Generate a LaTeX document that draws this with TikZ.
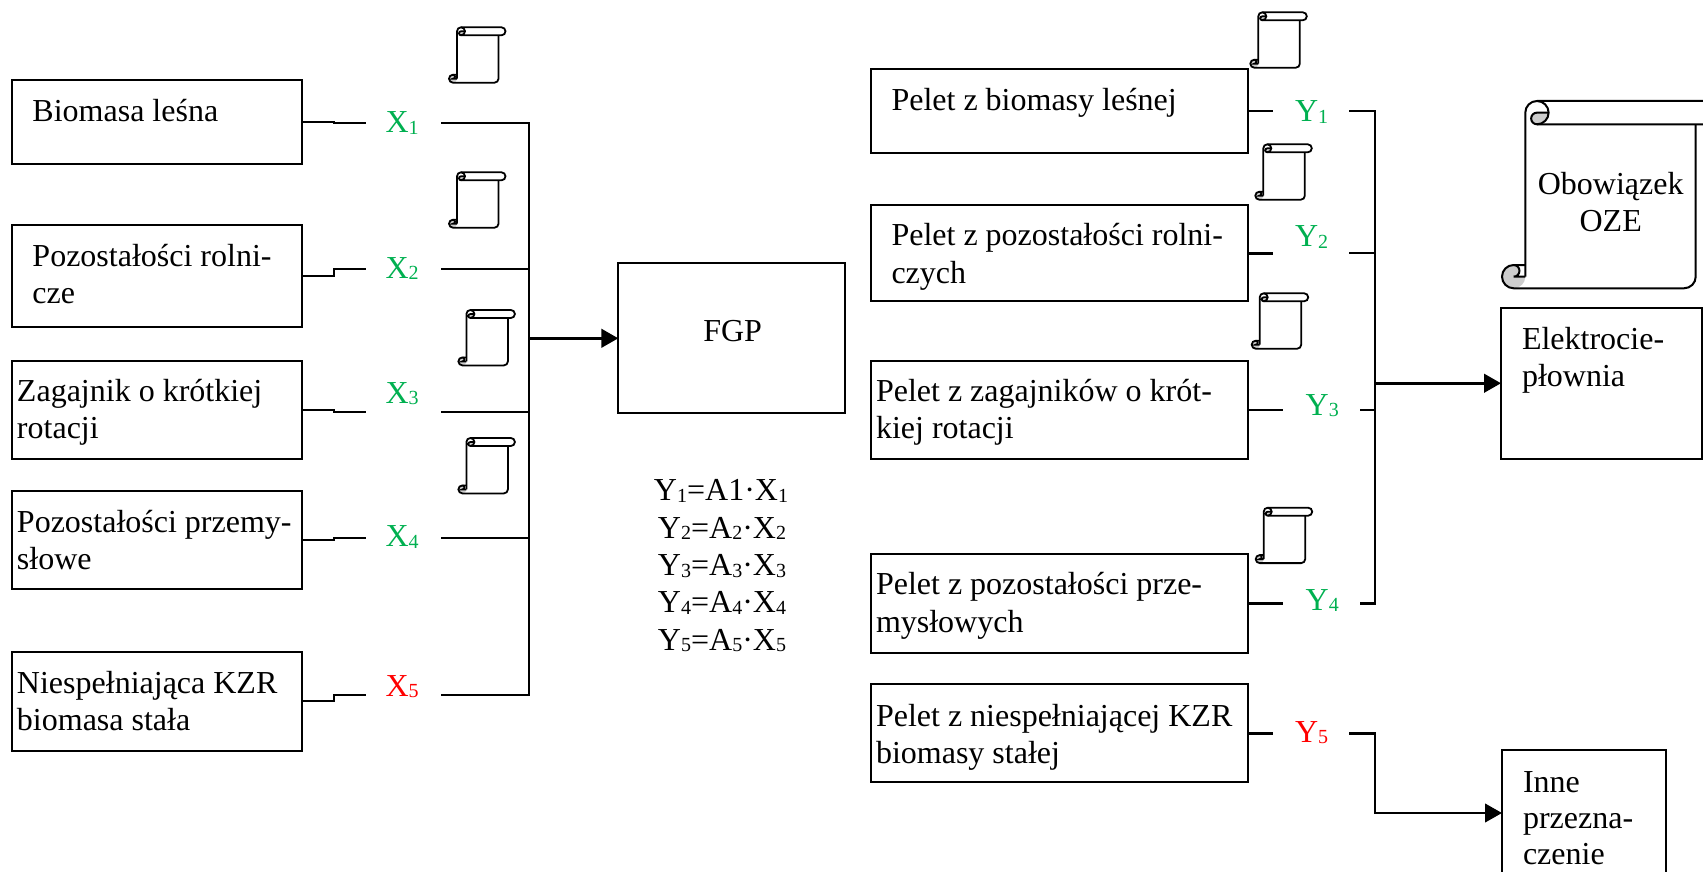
\documentclass[tikz,border=0pt]{standalone}
\usepackage{fontspec}
\setmainfont{Liberation Serif}
\usetikzlibrary{arrows.meta}
\definecolor{okgreen}{HTML}{00B050}
\definecolor{curlgrey}{HTML}{CDCDCD}
\newcommand\bxline[1]{\hbox{\hskip\bxleft\vrule height 26pt depth 11pt width 0pt #1}}
% width, height, left pad, first baseline, lines
\newcommand\bxtxt[5]{\vbox to #2pt{\hsize=#1pt\baselineskip=0pt\lineskip=0pt\lineskiplimit=0pt
  \def\bxleft{#3pt}\hbox to #1pt{}\vskip\dimexpr#4pt-26pt\relax #5\vss}}
\newcommand\subs[1]{\raisebox{-1.5pt}{\fontsize{20}{20}\selectfont #1}}
\newcommand\scrollfig[7]{%
  \pgfmathsetmacro\scH{#6/2}%
  \pgfmathsetmacro\scTm{-(#2+\scH)}%
  \pgfmathsetmacro\scTb{-(#2+#6)}%
  \pgfmathsetmacro\scTt{-(#2)}%
  \pgfmathsetmacro\scBm{-(#4-\scH)}%
  \pgfmathsetmacro\scBu{-(#4-#6)}%
  \pgfmathsetmacro\scBb{-(#4)}%
  \pgfmathsetmacro\scLh{#1+\scH}%
  \pgfmathsetmacro\scLa{#1+#6}%
  \pgfmathsetmacro\scLo{#1-\scH}%
  \pgfmathsetmacro\scRo{#5-\scH}%
  \pgfmathsetmacro\scHh{\scH/2}%
  \pgfmathsetmacro\scR{#3}%
  \fill[curlgrey] (\scLh,\scTm) -- (\scLa,\scTm) arc[start angle=0,end angle=-90,radius=\scH pt]
     arc[start angle=270,end angle=90,radius=\scHh pt] -- cycle;
  \fill[curlgrey] (\scLo,\scBu) arc[start angle=90,end angle=270,radius=\scH pt]
     arc[start angle=270,end angle=360,radius=\scH pt] -- (\scLo,\scBm)
     arc[start angle=270,end angle=450,radius=\scHh pt] -- cycle;
  \draw[#7] (#1,\scBm) -- (#1,\scTm) arc[start angle=180,end angle=90,radius=\scH pt]
     -- (\scRo,\scTt) arc[start angle=90,end angle=-90,radius=\scH pt] -- (\scLh,\scTb)
     arc[start angle=270,end angle=90,radius=\scHh pt] -- (\scLa,\scTm);
  \draw[#7] (\scLh,\scTt) arc[start angle=90,end angle=-90,radius=\scH pt];
  \draw[#7] (\scR,\scTb) -- (\scR,\scBm) arc[start angle=0,end angle=-90,radius=\scH pt] -- (\scLo,\scBb)
     arc[start angle=270,end angle=90,radius=\scH pt] -- (#1,\scBu);
  \draw[#7] (#1,\scBm) -- (\scLo,\scBm)
     arc[start angle=270,end angle=450,radius=\scHh pt];
}
\newcommand\smallscroll[2]{\scrollfig{#1}{#2}{#1+41.5}{#2+55.4}{#1+48.5}{8}{scrollline}}
\tikzset{
  x=1pt,y=1pt,
  boxnode/.style={draw=black,line width=2pt,inner sep=0pt,outer sep=0pt,font=\fontsize{32}{37}\selectfont},
  lab/.style={anchor=base west,inner sep=0pt,outer sep=0pt,font=\fontsize{32}{37}\selectfont},
  eqn/.style={anchor=base,inner sep=0pt,outer sep=0pt,font=\fontsize{32}{37}\selectfont},
  thin line/.style={draw=black,line width=2pt},
  busline/.style={draw=black,line width=2.8pt,line join=miter},
  branchline/.style={draw=black,line width=2.2pt},
  arrowline/.style={draw=black,line width=3pt,-{Triangle[length=17pt,width=18.5pt]}},
  scrollline/.style={draw=black,line width=1.8pt},
  bigscroll/.style={draw=black,line width=2pt},
}
\begin{document}
\begin{tikzpicture}
\useasboundingbox (0,0) rectangle (1703,-872);
\clip (0,0) rectangle (1703,-872);
% left boxes
\node[boxnode] (b1) at (157,-122) {\bxtxt{290}{84}{20.5}{41.7}{\bxline{Biomasa leśna}}};
\node[boxnode] (b2) at (157,-276) {\bxtxt{290}{101.4}{20.5}{41.4}{\bxline{Pozostałości rolni-}\bxline{cze}}};
\node[boxnode] (b3) at (157,-409.7) {\bxtxt{290}{98}{5}{41}{\bxline{Zagajnik o krótkiej}\bxline{rotacji}}};
\node[boxnode] (b4) at (157,-539.85) {\bxtxt{290}{97.7}{5}{41.2}{\bxline{Pozostałości przemy-}\bxline{słowe}}};
\node[boxnode] (b5) at (157,-701.35) {\bxtxt{290}{98.7}{5}{41.5}{\bxline{Niespełniająca KZR}\bxline{biomasa stała}}};
% FGP
\node[boxnode] (fgp) at (731.65,-338.3) {\bxtxt{226.7}{150}{85}{77.7}{\bxline{FGP}}};
% right boxes
\node[boxnode] (p1) at (1059.5,-111.1) {\bxtxt{377}{83.2}{20.5}{41.5}{\bxline{Pelet z biomasy leśnej}}};
\node[boxnode] (p2) at (1059.5,-253.3) {\bxtxt{377}{96}{20.5}{40}{\bxline{Pelet z pozostałości rolni-}\vskip1.5pt\bxline{czych}}};
\node[boxnode] (p3) at (1059.5,-409.7) {\bxtxt{377}{98}{5}{41}{\bxline{Pelet z zagajników o krót-}\bxline{kiej rotacji}}};
\node[boxnode] (p4) at (1059.5,-603.5) {\bxtxt{377}{98.4}{5}{40}{\bxline{Pelet z pozostałości prze-}\vskip1.5pt\bxline{mysłowych}}};
\node[boxnode] (p5) at (1059.5,-733.3) {\bxtxt{377}{98}{5}{42}{\bxline{Pelet z niespełniającej KZR}\bxline{biomasy stałej}}};
% output boxes
\node[boxnode] (el) at (1601.5,-383.25) {\bxtxt{201}{150.5}{21}{41.5}{\bxline{Elektrocie-}\bxline{płownia}}};
\node[boxnode] (in) at (1583.85,-813) {\bxtxt{163.7}{126}{21}{42.5}{\bxline{Inne}\vskip-1pt\bxline{przezna-}\vskip-1pt\bxline{czenie}}};
% labels
\node[lab,text=okgreen] (x1) at (385.6,-132.7) {X\subs{1}};
\node[lab,text=okgreen] (x2) at (385.6,-278.3) {X\subs{2}};
\node[lab,text=okgreen] (x3) at (385.6,-403) {X\subs{3}};
\node[lab,text=okgreen] (x4) at (385.6,-546.7) {X\subs{4}};
\node[lab,text=red] (x5) at (385.6,-696) {X\subs{5}};
\node[lab,text=okgreen] (y1) at (1295,-121.7) {Y\subs{1}};
\node[lab,text=okgreen] (y2) at (1295,-246.7) {Y\subs{2}};
\node[lab,text=okgreen] (y3) at (1305.7,-415) {Y\subs{3}};
\node[lab,text=okgreen] (y4) at (1305.7,-610) {Y\subs{4}};
\node[lab,text=red] (y5) at (1295,-742.3) {Y\subs{5}};
% equations
\node[eqn] (e1) at (721,-500.7) {Y\subs{1}=A1·X\subs{1}};
\node[eqn] (e2) at (722,-538) {Y\subs{2}=A\subs{2}·X\subs{2}};
\node[eqn] (e3) at (722,-575.7) {Y\subs{3}=A\subs{3}·X\subs{3}};
\node[eqn] (e4) at (722,-612.7) {Y\subs{4}=A\subs{4}·X\subs{4}};
\node[eqn] (e5) at (722,-650) {Y\subs{5}=A\subs{5}·X\subs{5}};
% connector ends
\coordinate (x1i) at (366,-123);   \coordinate (x1o) at (441,-123);
\coordinate (x2i) at (366,-269.3); \coordinate (x2o) at (441,-269.3);
\coordinate (x3i) at (366,-411.7); \coordinate (x3o) at (441,-411.7);
\coordinate (x4i) at (366,-537.7); \coordinate (x4o) at (441,-537.7);
\coordinate (x5i) at (366,-695);   \coordinate (x5o) at (441,-695);
\coordinate (lbus) at (529,-695);
\coordinate (y1i) at (1272.7,-111.1); \coordinate (y1o) at (1349,-111.1);
\coordinate (y2i) at (1272.7,-253.3); \coordinate (y2o) at (1349,-253.3);
\coordinate (y3i) at (1283.3,-409.7); \coordinate (y3o) at (1360,-409.7);
\coordinate (y4i) at (1283.3,-603.5); \coordinate (y4o) at (1360,-603.5);
\coordinate (y5i) at (1272.7,-733.3); \coordinate (y5o) at (1349,-733.3);
\coordinate (rbus) at (1375,-603.5);
\coordinate (rbusarrow) at (1375,-383.25);
% left connectors
\foreach \n in {1,...,5}{
  \draw[thin line] (b\n.east) -- ++(32,0) |- (x\n i);
}
\draw[busline] (x1o) -| (lbus) -- (x5o);
\foreach \n in {2,3,4}{
  \draw[branchline] (x\n o) -- (x\n o -| lbus);
}
\draw[arrowline] (lbus |- fgp.west) -- (fgp.west);
% right connectors
\foreach \n in {1,...,5}{
  \draw[thin line,line width=2.4pt] (p\n.east) -- (y\n i);
}
\draw[busline] (y1o) -| (rbus) -- (y4o);
\foreach \n in {2,3}{
  \draw[branchline] (y\n o) -- (y\n o -| rbus);
}
\draw[arrowline] (rbusarrow) -- (el.west);
\draw[arrowline,line width=2.6pt] (y5o) -| (rbus |- in.west) -- (in.west);
% small scrolls
\smallscroll{457}{27.3}
\smallscroll{457}{172.3}
\smallscroll{466.4}{310}
\smallscroll{466.4}{438}
\smallscroll{1258.3}{12.3}
\smallscroll{1263.3}{144.3}
\smallscroll{1259.7}{293.3}
\smallscroll{1263.7}{507.7}
% large scroll
\scrollfig{1525.3}{101}{1695.7}{288.3}{1740}{23.3}{bigscroll}
\node[eqn] (oze1) at (1610.7,-194.8) {Obowiązek};
\node[eqn] (oze2) at (1610.7,-231) {OZE};
\end{tikzpicture}
\end{document}
